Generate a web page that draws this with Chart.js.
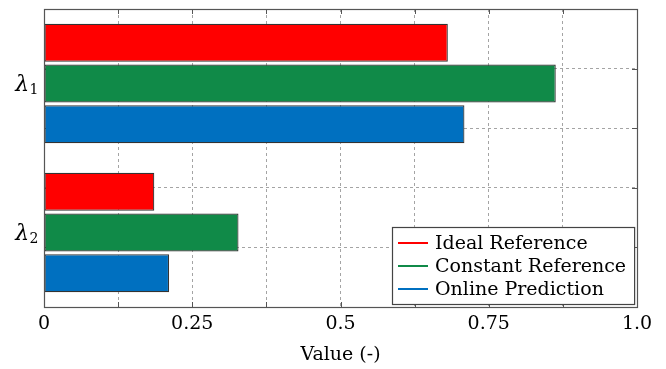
<!DOCTYPE html>
<html>
<head>
<meta charset="utf-8">
<script src="https://cdn.jsdelivr.net/npm/chart.js@4.4.1/dist/chart.umd.min.js"></script>
<style>
  html, body { margin: 0; padding: 0; background: #fff; }
  #wrap { width: 666px; height: 369px; }
</style>
</head>
<body>
<div id="wrap"><canvas id="c" width="666" height="369"></canvas></div>
<script>
// Categories and series values
const categories = ['λ₁', 'λ₂'];
const seriesNames = ['Ideal Reference', 'Constant Reference', 'Online Prediction'];
const idealReference = [0.681, 0.186];
const constantReference = [0.863, 0.328];
const onlinePrediction = [0.709, 0.211];
const seriesColors = ['#ff0000', '#108a48', '#0070c0'];

// Labelled ticks on the value axis (grid every 0.125)
const xTickValues = [0, 0.25, 0.5, 0.75, 1];
const xTickLabels = ['0', '0.25', '0.5', '0.75', '1.0'];

const SERIF = 'DejaVu Serif';
const GRID_COLOR = '#a4a4a4';
const AXIS_COLOR = '#555555';
const SUBSCRIPTS = '₀₁₂₃₄₅₆₇₈₉';

// Inward tick marks, plot frame, category labels with subscripts and an in-plot legend
const framePlugin = {
  id: 'frame',
  beforeDatasetsDraw(chart) {
    const { ctx, chartArea: a, scales } = chart;
    ctx.save();
    ctx.strokeStyle = AXIS_COLOR;
    ctx.lineWidth = 1;
    ctx.beginPath();
    scales.x.ticks.forEach(t => {
      const px = Math.round(scales.x.getPixelForValue(t.value)) + 0.5;
      ctx.moveTo(px, a.bottom); ctx.lineTo(px, a.bottom - 5);
      ctx.moveTo(px, a.top); ctx.lineTo(px, a.top + 5);
    });
    scales.yGrid.ticks.forEach(t => {
      const py = Math.round(scales.yGrid.getPixelForValue(t.value)) + 0.5;
      ctx.moveTo(a.left, py); ctx.lineTo(a.left + 5, py);
      ctx.moveTo(a.right, py); ctx.lineTo(a.right - 5, py);
    });
    ctx.stroke();
    ctx.restore();
  },
  afterDraw(chart) {
    const { ctx, chartArea: a, scales } = chart;
    ctx.save();
    // frame
    ctx.strokeStyle = AXIS_COLOR;
    ctx.lineWidth = 1.2;
    ctx.strokeRect(Math.round(a.left) + 0.5, Math.round(a.top) + 0.5,
                   Math.round(a.right - a.left), Math.round(a.bottom - a.top));

    // category labels: italic symbol followed by an upright subscript
    ctx.fillStyle = '#000';
    ctx.textBaseline = 'alphabetic';
    ctx.textAlign = 'left';
    chart.data.labels.forEach((lab, i) => {
      const py = scales.y.getPixelForValue(i);
      let base = '', sub = '';
      for (const ch of lab) {
        const k = SUBSCRIPTS.indexOf(ch);
        if (k >= 0) sub += String(k); else base += ch;
      }
      ctx.font = 'italic 22px "' + SERIF + '"';
      const bw = ctx.measureText(base).width;
      ctx.font = '14px "' + SERIF + '"';
      const sw = ctx.measureText(sub).width;
      const x0 = a.left - 6 - sw - bw;
      const baseY = py + 7;
      ctx.font = 'italic 22px "' + SERIF + '"';
      ctx.fillText(base, x0, baseY);
      ctx.font = '14px "' + SERIF + '"';
      ctx.fillText(sub, x0 + bw + 0.5, baseY + 3);
    });

    // legend
    ctx.font = '19px "' + SERIF + '"';
    const sets = chart.data.datasets;
    const textW = Math.max(...sets.map(d => ctx.measureText(d.label).width));
    const rowH = 23;
    const boxW = 43 + textW + 8;
    const boxH = rowH * sets.length + 8;
    const bx = Math.round(a.right - 3 - boxW);
    const by = Math.round(a.bottom - 3 - boxH);
    ctx.fillStyle = '#ffffff';
    ctx.fillRect(bx, by, boxW, boxH);
    ctx.strokeStyle = '#444444';
    ctx.lineWidth = 1.2;
    ctx.strokeRect(bx + 0.5, by + 0.5, boxW, boxH);
    sets.forEach((d, i) => {
      const cy = by + 16 + i * rowH;
      ctx.strokeStyle = d.legendColor;
      ctx.lineWidth = 2;
      ctx.beginPath();
      ctx.moveTo(bx + 6, cy); ctx.lineTo(bx + 36, cy);
      ctx.stroke();
      ctx.fillStyle = '#000';
      ctx.textBaseline = 'middle';
      ctx.textAlign = 'left';
      ctx.fillText(d.label, bx + 43, cy + 1);
    });
    ctx.restore();
  }
};

const seriesData = [idealReference, constantReference, onlinePrediction];

const zeroPadding = s => {
  s.paddingTop = 0; s.paddingBottom = 0; s.paddingLeft = 0; s.paddingRight = 0;
};

new Chart(document.getElementById('c'), {
  type: 'bar',
  data: {
    labels: categories,
    datasets: seriesNames.map((name, i) => ({
      label: name,
      data: seriesData[i],
      backgroundColor: seriesColors[i],
      legendColor: seriesColors[i],
      borderColor: '#333333',
      borderWidth: 1.2,
      borderSkipped: false,
      categoryPercentage: 0.82,
      barPercentage: 0.93,
      xAxisID: 'x',
      yAxisID: 'y'
    }))
  },
  options: {
    indexAxis: 'y',
    responsive: false,
    animation: false,
    devicePixelRatio: 1,
    layout: { padding: { left: 0, right: 29, top: 9, bottom: 0 } },
    plugins: {
      legend: { display: false },
      tooltip: { enabled: false }
    },
    scales: {
      x: {
        type: 'linear',
        position: 'bottom',
        min: 0,
        max: 1,
        offset: false,
        afterFit: s => { s.height = 62; s.paddingLeft = 0; s.paddingRight = 0; },
        ticks: {
          stepSize: 0.125,
          autoSkip: false,
          maxRotation: 0,
          padding: 6,
          color: '#000',
          font: { family: SERIF, size: 19 },
          callback: v => {
            const i = xTickValues.findIndex(t => Math.abs(t - v) < 1e-9);
            return i >= 0 ? xTickLabels[i] : '';
          }
        },
        grid: { color: GRID_COLOR, lineWidth: 1, drawTicks: false, offset: false },
        border: { display: false, dash: [3, 3] },
        title: {
          display: true,
          text: 'Value (-)',
          color: '#000',
          font: { family: SERIF, size: 19 },
          padding: { top: 0, bottom: 3 }
        }
      },
      y: {
        type: 'category',
        position: 'left',
        offset: true,
        afterFit: s => { s.width = 44; zeroPadding(s); },
        ticks: { display: false },
        grid: { display: false, drawTicks: false },
        border: { display: false }
      },
      yGrid: {
        type: 'linear',
        axis: 'y',
        position: 'right',
        min: 0,
        max: 5,
        offset: false,
        afterFit: s => { s.width = 0; zeroPadding(s); },
        ticks: { stepSize: 1, display: false },
        grid: { color: GRID_COLOR, lineWidth: 1, drawTicks: false, offset: false },
        border: { display: false, dash: [3, 3] }
      }
    }
  },
  plugins: [framePlugin]
});
</script>
</body>
</html>
